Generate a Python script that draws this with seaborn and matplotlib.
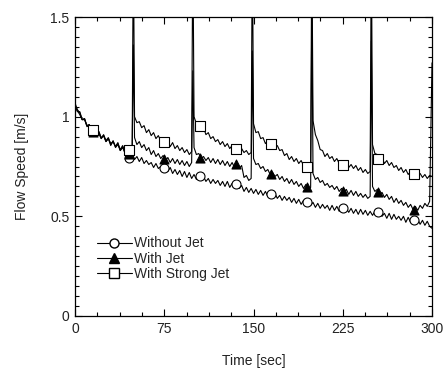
import numpy as np
import pandas as pd
import matplotlib
matplotlib.use("Agg")
import matplotlib.pyplot as plt
from matplotlib.lines import Line2D
from matplotlib.ticker import MultipleLocator, FuncFormatter
import seaborn as sns

# ---- data ----
time_step = 2  # seconds between samples, 0..300
without_jet = [
    1.06, 1.035, 1.02, 0.985, 0.99, 0.955, 0.96, 0.925, 0.945, 0.91,
    0.925, 0.89, 0.91, 0.88, 0.895, 0.86, 0.875, 0.85, 0.87, 0.83,
    0.845, 0.82, 0.83, 0.795, 0.81, 0.785, 0.80, 0.775, 0.795, 0.765,
    0.78, 0.76, 0.77, 0.745, 0.765, 0.74, 0.75, 0.73, 0.755, 0.725,
    0.745, 0.715, 0.735, 0.71, 0.73, 0.70, 0.725, 0.695, 0.72, 0.69,
    0.71, 0.685, 0.71, 0.68, 0.70, 0.675, 0.69, 0.665, 0.685, 0.665,
    0.68, 0.655, 0.675, 0.65, 0.675, 0.645, 0.665, 0.645, 0.66, 0.64,
    0.655, 0.625, 0.645, 0.62, 0.64, 0.615, 0.635, 0.61, 0.63, 0.605,
    0.625, 0.60, 0.62, 0.595, 0.615, 0.59, 0.605, 0.58, 0.60, 0.58,
    0.595, 0.57, 0.59, 0.565, 0.585, 0.56, 0.58, 0.555, 0.575, 0.555,
    0.57, 0.545, 0.565, 0.54, 0.56, 0.54, 0.555, 0.53, 0.555, 0.53,
    0.55, 0.525, 0.545, 0.525, 0.54, 0.52, 0.54, 0.515, 0.535, 0.51,
    0.535, 0.51, 0.53, 0.505, 0.525, 0.505, 0.525, 0.50, 0.52, 0.50,
    0.515, 0.49, 0.515, 0.485, 0.51, 0.485, 0.50, 0.48, 0.50, 0.47,
    0.495, 0.47, 0.49, 0.465, 0.485, 0.46, 0.48, 0.455, 0.475, 0.45,
    0.44,
]
with_jet = [
    1.05, 1.025, 1.025, 0.985, 0.99, 0.95, 0.955, 0.925, 0.935, 0.905,
    0.915, 0.89, 0.905, 0.875, 0.89, 0.855, 0.88, 0.845, 0.86, 0.83,
    0.85, 0.815, 0.83, 0.80, 0.815,
    0.895, 0.86, 0.875, 0.845, 0.86,
    0.83, 0.845, 0.81, 0.83, 0.80, 0.815, 0.79, 0.805, 0.78, 0.795,
    0.77, 0.79, 0.765, 0.785, 0.76, 0.78, 0.755, 0.775, 0.75, 0.77,
    0.845, 0.81, 0.815, 0.79, 0.80, 0.78, 0.795, 0.77, 0.79, 0.765,
    0.785, 0.76, 0.78, 0.755, 0.775, 0.75, 0.77, 0.745, 0.765, 0.74,
    0.755, 0.695, 0.705, 0.68, 0.69,
    0.79, 0.76, 0.765, 0.74, 0.75,
    0.725, 0.735, 0.71, 0.72, 0.70, 0.71, 0.685, 0.70, 0.675, 0.69,
    0.665, 0.685, 0.66, 0.675, 0.65, 0.665, 0.64, 0.66, 0.635, 0.645,
    0.715, 0.685, 0.695, 0.67, 0.68,
    0.655, 0.665, 0.645, 0.655, 0.635, 0.65, 0.625, 0.64, 0.62, 0.635,
    0.61, 0.63, 0.605, 0.625, 0.60, 0.615, 0.595, 0.61, 0.59, 0.60,
    0.65, 0.625, 0.635, 0.61, 0.62,
    0.595, 0.61, 0.585, 0.60, 0.57, 0.59, 0.565, 0.58, 0.555, 0.57,
    0.545, 0.56, 0.535, 0.55, 0.53, 0.555, 0.54, 0.565, 0.55, 0.575,
    1.27,
]
with_strong_jet = [
    1.07, 1.03, 1.01, 0.985, 0.985, 0.955, 0.96, 0.93, 0.94, 0.91,
    0.925, 0.895, 0.905, 0.875, 0.89, 0.865, 0.875, 0.85, 0.865, 0.835,
    0.855, 0.825, 0.84, 0.815, 0.825,
    1.00, 0.97, 0.975, 0.945, 0.955,
    0.92, 0.935, 0.905, 0.92, 0.89, 0.905, 0.88, 0.89, 0.865, 0.88,
    0.85, 0.87, 0.84, 0.855, 0.83, 0.845, 0.82, 0.835, 0.81, 0.825,
    1.00, 0.965, 0.97, 0.94, 0.945,
    0.91, 0.92, 0.89, 0.90, 0.875, 0.885, 0.86, 0.875, 0.85, 0.865,
    0.84, 0.855, 0.835, 0.85, 0.825, 0.84, 0.82, 0.83, 0.81, 0.82,
    0.965, 0.92, 0.925, 0.89, 0.895,
    0.865, 0.88, 0.855, 0.87, 0.845, 0.855, 0.83, 0.835, 0.805, 0.815,
    0.785, 0.80, 0.775, 0.79, 0.765, 0.78, 0.755, 0.765, 0.745, 0.75,
    0.98, 0.91, 0.88, 0.835, 0.83,
    0.80, 0.815, 0.79, 0.80, 0.775, 0.79, 0.765, 0.78, 0.755, 0.77,
    0.745, 0.76, 0.74, 0.755, 0.73, 0.745, 0.72, 0.735, 0.715, 0.725,
    0.86, 0.815, 0.81, 0.79, 0.795,
    0.765, 0.78, 0.755, 0.77, 0.745, 0.755, 0.73, 0.745, 0.72, 0.735,
    0.71, 0.725, 0.705, 0.72, 0.70, 0.715, 0.695, 0.71, 0.69, 0.705,
    0.70,
]

# jet pulses (short spikes)
spike_times = [49, 99, 149, 199, 249]
with_jet_spikes = [1.36, 1.23, 1.33, 1.55, 1.38]
strong_jet_spikes = [1.9, 1.9, 1.9, 1.9, 1.9]

# marker positions
marker_times = [15, 45, 75, 105, 135, 165, 195, 225, 255, 285]
without_jet_markers = [0.93, 0.795, 0.74, 0.70, 0.66, 0.61, 0.57, 0.54, 0.52, 0.482]
with_jet_markers = [0.925, 0.815, 0.79, 0.795, 0.765, 0.712, 0.646, 0.625, 0.624, 0.532]
strong_jet_markers = [0.933, 0.833, 0.872, 0.953, 0.84, 0.863, 0.748, 0.76, 0.79, 0.71]

labels = ["Without Jet", "With Jet", "With Strong Jet"]
x_ticks = [0, 75, 150, 225, 300]
y_ticks = [0, 0.5, 1, 1.5]

# ---- build series ----
base_t = np.arange(0, 301, time_step, dtype=float)


def merged(values, s_t=None, s_v=None):
    t = list(base_t)
    v = list(values)
    if s_t is not None:
        t += list(s_t)
        v += list(s_v)
    df = pd.DataFrame({"t": t, "v": v}).sort_values("t", kind="stable")
    return df


d_nj = merged(without_jet)
d_wj = merged(with_jet, spike_times, with_jet_spikes)
d_sj = merged(with_strong_jet, spike_times, strong_jet_spikes)

# ---- plot ----
sns.set_style("ticks")
plt.rcParams["font.family"] = ["Liberation Sans", "DejaVu Sans"]

fig = plt.figure(figsize=(4.44, 3.70), dpi=100)
ax = fig.add_axes([0.169, 0.146, 0.804, 0.808])

lw = 0.8
for d in (d_nj, d_wj, d_sj):
    sns.lineplot(data=d, x="t", y="v", estimator=None, sort=False,
                 color="black", linewidth=lw, ax=ax)

ms = 42
sns.scatterplot(x=marker_times, y=without_jet_markers, marker="o", s=ms,
                facecolor="white", edgecolor="black", linewidth=0.8, zorder=5, ax=ax)
sns.scatterplot(x=marker_times, y=with_jet_markers, marker="^", s=ms,
                color="black", edgecolor="black", linewidth=0.8, zorder=5, ax=ax)
sns.scatterplot(x=marker_times, y=strong_jet_markers, marker="s", s=ms,
                facecolor="white", edgecolor="black", linewidth=0.8, zorder=5, ax=ax)

ax.set_xlim(0, 300)
ax.set_ylim(0, 1.5)
ax.set_xticks(x_ticks)
ax.set_yticks(y_ticks)
ax.xaxis.set_minor_locator(MultipleLocator(18.75))
ax.yaxis.set_minor_locator(MultipleLocator(0.05))
ax.yaxis.set_major_formatter(FuncFormatter(lambda v, p: f"{v:g}"))
ax.tick_params(which="both", direction="in", top=True, right=True,
               labelsize=10, colors="black", labelcolor="#222222", width=0.8)
ax.tick_params(which="major", length=5, pad=4)
ax.tick_params(which="minor", length=3)
for s in ax.spines.values():
    s.set_linewidth(0.9)
    s.set_color("black")

ax.set_xlabel("Time [sec]", fontsize=10, color="#222222", labelpad=13)
ax.set_ylabel("Flow Speed [m/s]", fontsize=10, color="#222222", labelpad=15)

handles = [
    Line2D([], [], color="black", lw=lw, marker="o", markersize=6.5,
           markerfacecolor="white", markeredgecolor="black"),
    Line2D([], [], color="black", lw=lw, marker="^", markersize=6.5,
           markerfacecolor="black", markeredgecolor="black"),
    Line2D([], [], color="black", lw=lw, marker="s", markersize=6.5,
           markerfacecolor="white", markeredgecolor="black"),
]
ax.legend(handles, labels, loc="upper left", bbox_to_anchor=(0.061, 0.266),
          frameon=False, fontsize=10, handlelength=2.5, handletextpad=0.2,
          labelspacing=0.1, borderaxespad=0, borderpad=0)

fig.savefig("out.png", dpi=100)
